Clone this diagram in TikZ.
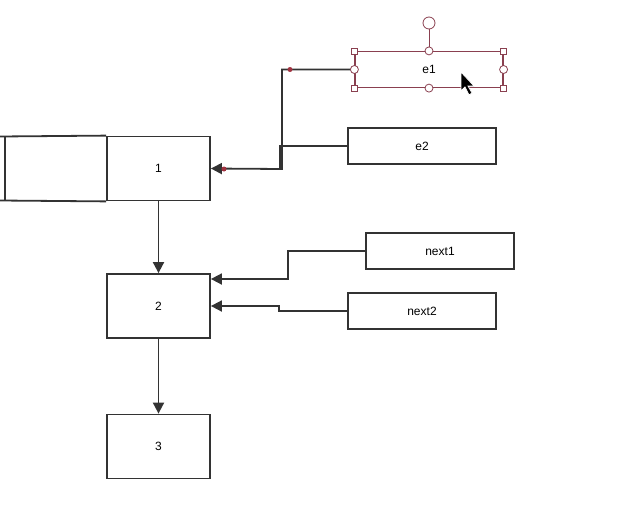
\documentclass[tikz,border=0pt]{standalone}
\usepackage{fontspec}
\setmainfont{Liberation Sans}
\usetikzlibrary{arrows.meta}
\definecolor{linea}{HTML}{333333}
\definecolor{sel}{HTML}{8A4050}
\begin{document}
\begin{tikzpicture}[x=1pt,y=-1pt,
  caja/.style={draw=linea,line width=1.8pt,minimum width=103pt,minimum height=64pt,inner sep=0pt,font=\fontsize{12}{14}\selectfont},
  campo/.style={draw=linea,line width=1.8pt,minimum width=148pt,minimum height=36pt,inner sep=0pt,font=\fontsize{12}{14}\selectfont},
  flecha/.style={draw=linea,line width=1.8pt,-{Triangle[length=11pt,width=11pt]}},
  asa/.style={draw=sel,fill=white,line width=0.8pt,minimum size=6pt,inner sep=0pt}]
	\useasboundingbox (0,0) rectangle (641,509);
	%cajas
	\node[caja] (n1) at (158.5,168.5) {1};
	\node[caja] (n2) at (158.5,306) {2};
	\node[caja] (n3) at (158.5,446.5) {3};
	\draw[linea,line width=1.8pt] (n1.north west) -- (0,136.5) (n1.south west) -- (0,200.5);
	\draw[linea,line width=1.8pt] (5,136.5) -- (5,200.5);
	%campos
	\node[campo,draw=sel,line width=1.2pt] (e1) at (429,69.5) {e1};
	\node[campo] (e2) at (422,146) {e2};
	\node[campo] (next1) at (440,251) {next1};
	\node[campo] (next2) at (422,311) {next2};
	%conectores
	\draw[flecha] (n1) -- (n2);
	\draw[flecha] (n2) -- (n3);
	\draw[flecha] (e1.west) -- (282,69.5) -- (282,169) -- (n1.east);
	\draw[linea,line width=1.8pt] (e2.west) -- (280,146) -- (280,169);
	\draw[flecha] (next1.west) -- (288,251) -- (288,279) -- (n2.east |- 0,279);
	\draw[flecha] (next2.west) -- (279,311) -- (279,306) -- (n2.east);
	\fill[sel!80!red] (290,69.5) circle (2.5pt) (224,169) circle (2.5pt);
	%seleccion
	\draw[sel,line width=0.8pt] (e1.north) -- (429,23);
	\node[asa,circle,minimum size=12pt] (rot) at (429,23) {};
	\foreach \p in {north west,north east,south west,south east}
		\node[asa] at (e1.\p) {};
	\foreach \p in {north,south,west,east}
		\node[asa,circle,minimum size=8pt] at (e1.\p) {};
	%cursor
	\filldraw[black,draw=white,line width=0.8pt] (461,72) -- (461,91) -- (465,87) -- (469,95) -- (472,93) -- (468,86) -- (474,86) -- cycle;
\end{tikzpicture}
\end{document}
